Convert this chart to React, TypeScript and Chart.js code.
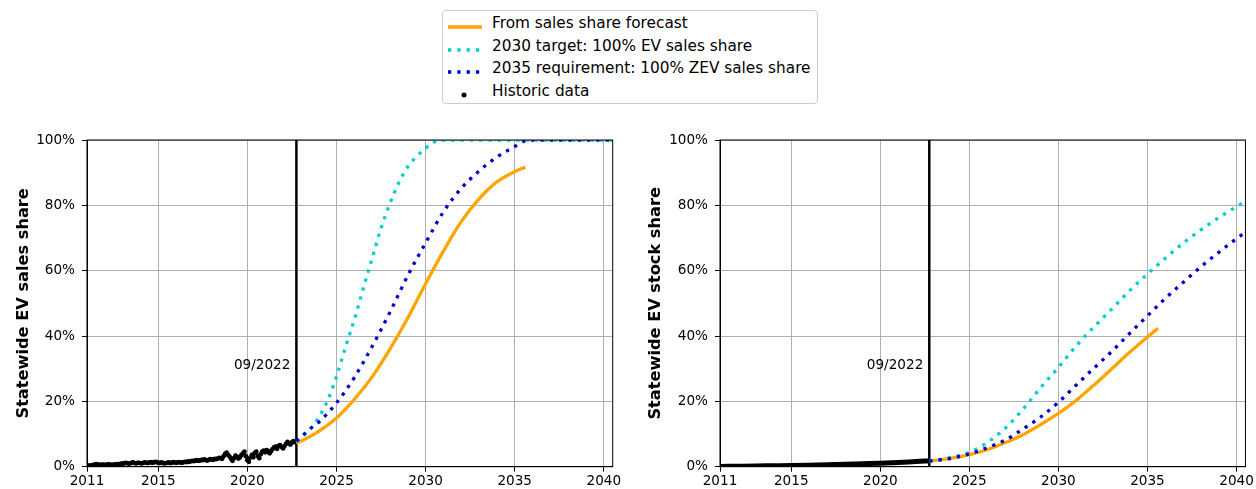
import React, { useEffect, useRef } from "react";
import { Chart, registerables } from "chart.js";

Chart.register(...registerables);

const FONT = "'DejaVu Sans', 'Liberation Sans', sans-serif";

// Axis ticks shared by both panels
const xTickValues = [2011, 2015, 2020, 2025, 2030, 2035, 2040];
const yTickValues = [0, 20, 40, 60, 80, 100];
const cutoffYear = 2022.75;
const cutoffLabel = "09/2022";

// Monthly statewide EV sales share (%), Jan 2011 – Sep 2022
const historicStartYear = 2011;
const historicSalesShare = [
  0.2, 0.3, 0.3, 0.4, 0.5, 0.6, 0.8, 0.7, 0.6, 0.5, 0.6, 0.6,
  0.5, 0.6, 0.6, 0.7, 0.6, 0.5, 0.6, 0.7, 0.8, 0.7, 0.8, 0.9,
  0.9, 1.0, 1.2, 1.1, 0.9, 1.0, 1.2, 1.3, 1.1, 1.0, 1.2, 1.2,
  1.1, 1.0, 1.2, 1.3, 1.2, 1.1, 1.3, 1.4, 1.2, 1.3, 1.5, 1.4,
  1.2, 1.1, 1.3, 1.2, 1.0, 1.1, 1.2, 1.3, 1.1, 1.2, 1.4, 1.3,
  1.2, 1.3, 1.4, 1.3, 1.2, 1.4, 1.5, 1.4, 1.6, 1.5, 1.7, 1.8,
  1.7, 1.9, 2.0, 1.8, 1.9, 2.1, 2.0, 2.2, 2.0, 1.9, 2.1, 2.3,
  2.2, 2.1, 2.4, 2.3, 2.5, 2.7, 2.6, 2.4, 3.2, 3.9, 4.3, 3.6,
  3.1, 2.4, 1.8, 2.6, 3.4, 3.0, 2.5, 2.9, 3.6, 4.1, 4.6, 3.2,
  2.0, 1.5, 2.8, 3.6, 2.9, 4.2, 4.6, 3.3, 2.6, 3.8, 4.6, 4.9,
  4.4, 5.1, 4.6, 4.1, 4.8, 5.4, 5.9, 6.1, 5.5, 6.4, 6.6, 6.0,
  5.6, 6.3, 7.0, 7.6, 7.1, 6.8, 7.4, 7.8, 7.5,
];

// Statewide EV stock share (%), historic
const historicStockYears = [2011, 2012, 2013, 2014, 2015, 2016, 2017, 2018, 2019, 2020, 2021, 2022, 2022.75];
const historicStockShare = [0.08, 0.15, 0.22, 0.3, 0.38, 0.48, 0.6, 0.75, 0.92, 1.08, 1.3, 1.58, 1.78];

// Sales share scenarios (%)
const salesForecastYears = [2022.75, 2023.5, 2024, 2025, 2026, 2027, 2028, 2029, 2030, 2031, 2032, 2033, 2034, 2035, 2035.6];
const salesForecastShare = [7.2, 9.2, 10.8, 14.9, 20.6, 27.5, 36, 45.5, 56, 66, 75, 82, 87.2, 90.3, 91.7];

const sales2030Years = [2022.75, 2023.25, 2023.75, 2024.25, 2024.6, 2025, 2025.5, 2026, 2026.5, 2027, 2027.5, 2028, 2028.5, 2029, 2029.5, 2030, 2030.5, 2030.8, 2040.5];
const sales2030Share = [7.8, 10, 13, 17.4, 21.5, 27.6, 36.5, 45, 54.5, 63.8, 73, 80.6, 87, 91.8, 95, 97.5, 99.4, 100, 100];

const sales2035Years = [2022.75, 2023.5, 2024, 2025, 2026, 2027, 2028, 2029, 2030, 2031, 2032, 2033, 2034, 2035, 2035.6, 2036, 2040.5];
const sales2035Share = [7.8, 11.5, 13.6, 19.5, 27.3, 36.8, 47.3, 58.5, 68.5, 78, 85.2, 90.5, 94.8, 98, 99.8, 100, 100];

// Stock share scenarios (%)
const stockForecastYears = [2022.75, 2024, 2025, 2026, 2027, 2028, 2029, 2030, 2031, 2032, 2033, 2034, 2035, 2035.6];
const stockForecastShare = [1.7, 2.6, 3.7, 5.2, 7.3, 9.8, 12.9, 16.3, 20.3, 25, 30, 35, 39.7, 42.4];

const stock2030Years = [2022.75, 2024, 2025, 2026, 2027, 2028, 2029, 2030, 2031, 2032, 2033, 2034, 2035, 2036, 2037, 2038, 2039, 2040, 2040.5];
const stock2030Share = [1.7, 2.9, 4.4, 7.4, 11.7, 17.5, 24.2, 30.4, 37, 42.8, 48.3, 53.9, 59, 63.8, 68.4, 72.5, 76.2, 79.6, 81.2];

const stock2035Years = [2022.75, 2024, 2025, 2026, 2027, 2028, 2029, 2030, 2031, 2032, 2033, 2034, 2035, 2036, 2037, 2038, 2039, 2040, 2040.5];
const stock2035Share = [1.7, 2.6, 3.9, 5.8, 8.1, 11.5, 15.2, 19.7, 25, 30.2, 35.3, 40.8, 46.2, 51.5, 56.4, 61.2, 65.6, 69.8, 71.8];

const COLORS = {
  forecast: "#FFA500",
  target2030: "#00CED1",
  requirement2035: "#0000CD",
  historic: "#000000",
};

const LEGEND_LABELS = [
  "From sales share forecast",
  "2030 target: 100% EV sales share",
  "2035 requirement: 100% ZEV sales share",
  "Historic data",
];

const zip = (xs: number[], ys: number[]) => xs.map((x, i) => ({ x, y: ys[i] }));

type PanelProps = {
  left: number;
  yTitle: string;
  axisWidth: number;
  titlePad: number;
  padRight: number;
  historicMode: "dots" | "line";
  historic: { x: number; y: number }[];
  forecast: { x: number; y: number }[];
  target2030: { x: number; y: number }[];
  requirement2035: { x: number; y: number }[];
};

const CANVAS_W = 628;
const CANVAS_H = 371;
const TICK_FONT_SIZE = 13.6;

function SharePanel(p: PanelProps) {
  const ref = useRef<HTMLCanvasElement>(null);

  useEffect(() => {
    const canvas = ref.current;
    if (!canvas) return;

    // Closes the axes box and writes the cut-off date next to its marker line
    const framePlugin = {
      id: "frameAndCutoff",
      afterDatasetsDraw(chart: any) {
        const { ctx, chartArea, scales } = chart;
        ctx.save();
        ctx.strokeStyle = "#000";
        ctx.lineWidth = 1;
        ctx.strokeRect(chartArea.left, chartArea.top, chartArea.right - chartArea.left, chartArea.bottom - chartArea.top);
        ctx.fillStyle = "#000";
        ctx.font = `${TICK_FONT_SIZE}px ${FONT}`;
        ctx.textAlign = "right";
        ctx.textBaseline = "middle";
        ctx.fillText(cutoffLabel, scales.x.getPixelForValue(cutoffYear) - 6, scales.y.getPixelForValue(31));
        ctx.restore();
      },
    };

    const dotted = (color: string, data: any) => ({
      data,
      borderColor: color,
      backgroundColor: color,
      borderWidth: 3.3,
      borderDash: [3.3, 6],
      borderCapStyle: "butt" as const,
      pointRadius: 0,
      cubicInterpolationMode: "monotone" as const,
    });

    const historicDataset =
      p.historicMode === "dots"
        ? {
            data: p.historic,
            showLine: false,
            pointRadius: 2.4,
            pointBorderWidth: 0,
            pointBackgroundColor: COLORS.historic,
            borderColor: COLORS.historic,
            clip: 0,
          }
        : {
            data: p.historic,
            borderColor: COLORS.historic,
            borderWidth: 5,
            pointRadius: 0,
            cubicInterpolationMode: "monotone" as const,
            clip: 0,
          };

    const chart = new Chart(canvas, {
      type: "line",
      data: {
        datasets: [
          dotted(COLORS.requirement2035, p.requirement2035),
          dotted(COLORS.target2030, p.target2030),
          {
            data: p.forecast,
            borderColor: COLORS.forecast,
            borderWidth: 3.3,
            pointRadius: 0,
            cubicInterpolationMode: "monotone" as const,
          },
          historicDataset as any,
          {
            data: [
              { x: cutoffYear, y: 0 },
              { x: cutoffYear, y: 100 },
            ],
            borderColor: "#000",
            borderWidth: 2.5,
            pointRadius: 0,
            clip: 0,
          },
        ],
      },
      options: {
        animation: false,
        responsive: false,
        devicePixelRatio: 1,
        events: [],
        layout: { padding: { left: 0, top: 22, right: p.padRight, bottom: 0 } },
        plugins: { legend: { display: false }, tooltip: { enabled: false } },
        scales: {
          x: {
            type: "linear",
            min: 2011,
            max: 2040.5,
            afterBuildTicks: (s: any) => {
              s.ticks = xTickValues.map((v) => ({ value: v }));
            },
            afterFit: (s: any) => {
              s.height = 22.3;
            },
            grid: { color: "#b0b0b0", lineWidth: 1, tickColor: "#000", tickLength: 5, tickWidth: 1 },
            border: { display: true, color: "#000", width: 1 },
            ticks: {
              autoSkip: false,
              maxRotation: 0,
              padding: 2,
              color: "#000",
              font: { family: FONT, size: TICK_FONT_SIZE },
              callback: (v: any) => String(v),
            },
          },
          y: {
            type: "linear",
            min: 0,
            max: 100,
            afterBuildTicks: (s: any) => {
              s.ticks = yTickValues.map((v) => ({ value: v }));
            },
            afterFit: (s: any) => {
              s.width = p.axisWidth;
            },
            grid: { color: "#b0b0b0", lineWidth: 1, tickColor: "#000", tickLength: 5, tickWidth: 1 },
            border: { display: true, color: "#000", width: 1 },
            ticks: {
              padding: 7,
              color: "#000",
              font: { family: FONT, size: TICK_FONT_SIZE },
              callback: (v: any) => `${v}%`,
            },
            title: {
              display: true,
              text: p.yTitle,
              color: "#000",
              font: { family: FONT, size: 16.2, weight: "bold" },
              padding: { top: p.titlePad, bottom: 0 },
            },
          },
        },
      },
      plugins: [framePlugin],
    });

    return () => chart.destroy();
  }, []);

  return (
    <canvas
      ref={ref}
      width={CANVAS_W}
      height={CANVAS_H}
      style={{ position: "absolute", left: p.left, top: 118, width: CANVAS_W, height: CANVAS_H }}
    />
  );
}

function LegendSwatch({ kind }: { kind: number }) {
  if (kind === 0)
    return (
      <svg width={36} height={10}>
        <line x1={1} y1={5} x2={35} y2={5} stroke={COLORS.forecast} strokeWidth={3.3} />
      </svg>
    );
  if (kind === 1 || kind === 2)
    return (
      <svg width={36} height={10}>
        <line
          x1={1}
          y1={5}
          x2={35}
          y2={5}
          stroke={kind === 1 ? COLORS.target2030 : COLORS.requirement2035}
          strokeWidth={3.3}
          strokeDasharray="3.3 6"
        />
      </svg>
    );
  return (
    <svg width={36} height={10}>
      <circle cx={17} cy={5} r={2.5} fill={COLORS.historic} />
    </svg>
  );
}

export default function App() {
  const salesHistoric = historicSalesShare.map((y, i) => ({ x: historicStartYear + i / 12, y }));
  const rowCenters = [13, 35.5, 58, 80.5];

  return (
    <div
      style={{
        position: "fixed",
        left: 0,
        top: 0,
        width: 1256,
        height: 489,
        overflow: "hidden",
        background: "#fff",
        fontFamily: FONT,
      }}
    >
      <div
        style={{
          position: "absolute",
          left: 442,
          top: 10,
          width: 376,
          height: 94,
          boxSizing: "border-box",
          border: "1px solid #cccccc",
          borderRadius: 4,
          background: "#fff",
          fontSize: 15.3,
          color: "#000",
        }}
      >
        {LEGEND_LABELS.map((label, i) => (
          <div key={label}>
            <div style={{ position: "absolute", left: 4, top: rowCenters[i] - 6, height: 10 }}>
              <LegendSwatch kind={i} />
            </div>
            <div
              style={{
                position: "absolute",
                left: 49,
                top: rowCenters[i] - 10,
                lineHeight: "18px",
                whiteSpace: "nowrap",
              }}
            >
              {label}
            </div>
          </div>
        ))}
      </div>

      <SharePanel
        left={0}
        yTitle="Statewide EV sales share"
        axisWidth={87}
        titlePad={13.8}
        padRight={15.3}
        historicMode="dots"
        historic={salesHistoric}
        forecast={zip(salesForecastYears, salesForecastShare)}
        target2030={zip(sales2030Years, sales2030Share)}
        requirement2035={zip(sales2035Years, sales2035Share)}
      />
      <SharePanel
        left={628}
        yTitle="Statewide EV stock share"
        axisWidth={92}
        titlePad={18.3}
        padRight={10.3}
        historicMode="line"
        historic={zip(historicStockYears, historicStockShare)}
        forecast={zip(stockForecastYears, stockForecastShare)}
        target2030={zip(stock2030Years, stock2030Share)}
        requirement2035={zip(stock2035Years, stock2035Share)}
      />
    </div>
  );
}
